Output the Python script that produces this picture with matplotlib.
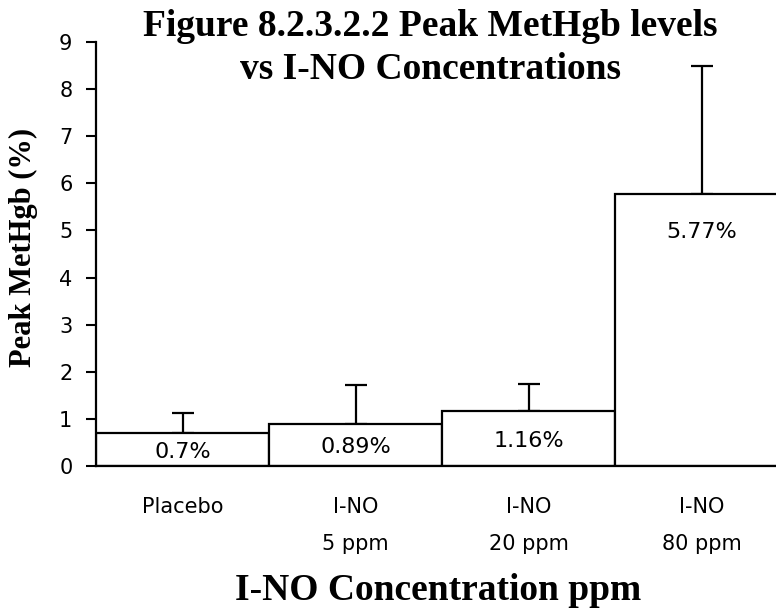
import matplotlib
matplotlib.use("Agg")
import matplotlib.pyplot as plt
import numpy as np

categories = ["Placebo", "I-NO\n5 ppm", "I-NO\n20 ppm", "I-NO\n80 ppm"]
values = [0.7, 0.89, 1.16, 5.77]
err_upper = [0.42, 0.83, 0.59, 2.73]
value_labels = ["0.7%", "0.89%", "1.16%", "5.77%"]
yticks = [0, 1, 2, 3, 4, 5, 6, 7, 8, 9]

SERIF = ["Liberation Serif", "DejaVu Serif"]
SANS = ["DejaVu Sans"]

fig = plt.figure(figsize=(7.76, 6.12), dpi=100)
ax = fig.add_axes([96 / 776, 146 / 612, 1 - 96 / 776, 424 / 612])

x = np.arange(len(categories))
ax.bar(x, values, width=1.0, color="white", edgecolor="black", linewidth=1.6, zorder=2)
ax.errorbar(x, values, yerr=[np.zeros(len(values)), err_upper], fmt="none",
            ecolor="black", elinewidth=1.6, capsize=8, capthick=1.6, zorder=1)

for xi, v, lab in zip(x, values, value_labels):
    ax.text(xi, max(v / 2 - 0.05, v - 0.8), lab, ha="center", va="center",
            fontsize=16, family=SANS)

ax.set_xlim(-0.5, 3.43)
ax.set_ylim(0, 9)
ax.set_yticks(yticks)
ax.set_yticklabels([str(t) for t in yticks], fontsize=15, family=SANS)
ax.tick_params(axis="y", direction="out", length=7, width=1.5, pad=10)
ax.set_xticks(x)
ax.set_xticklabels(categories, fontsize=15, family=SANS, linespacing=2.1)
ax.tick_params(axis="x", length=0, pad=22)
for lbl in ax.get_xticklabels():
    lbl.set_verticalalignment("top")

for s in ["top", "right"]:
    ax.spines[s].set_visible(False)
ax.spines["left"].set_linewidth(1.6)
ax.spines["bottom"].set_linewidth(1.6)

fig.text(430 / 776, 1 - 9 / 612,
         "Figure 8.2.3.2.2 Peak MetHgb levels\nvs I-NO Concentrations",
         ha="center", va="top", fontsize=27, fontweight="bold", family=SERIF,
         linespacing=1.3)
fig.text(438 / 776, 1 - 590 / 612, "I-NO Concentration ppm", ha="center", va="center",
         fontsize=27, fontweight="bold", family=SERIF)
fig.text(23 / 776, 1 - 247 / 612, "Peak MetHgb (%)", ha="center", va="center",
         rotation=90, fontsize=22, fontweight="bold", family=SERIF)

fig.savefig("out.png", dpi=100)
